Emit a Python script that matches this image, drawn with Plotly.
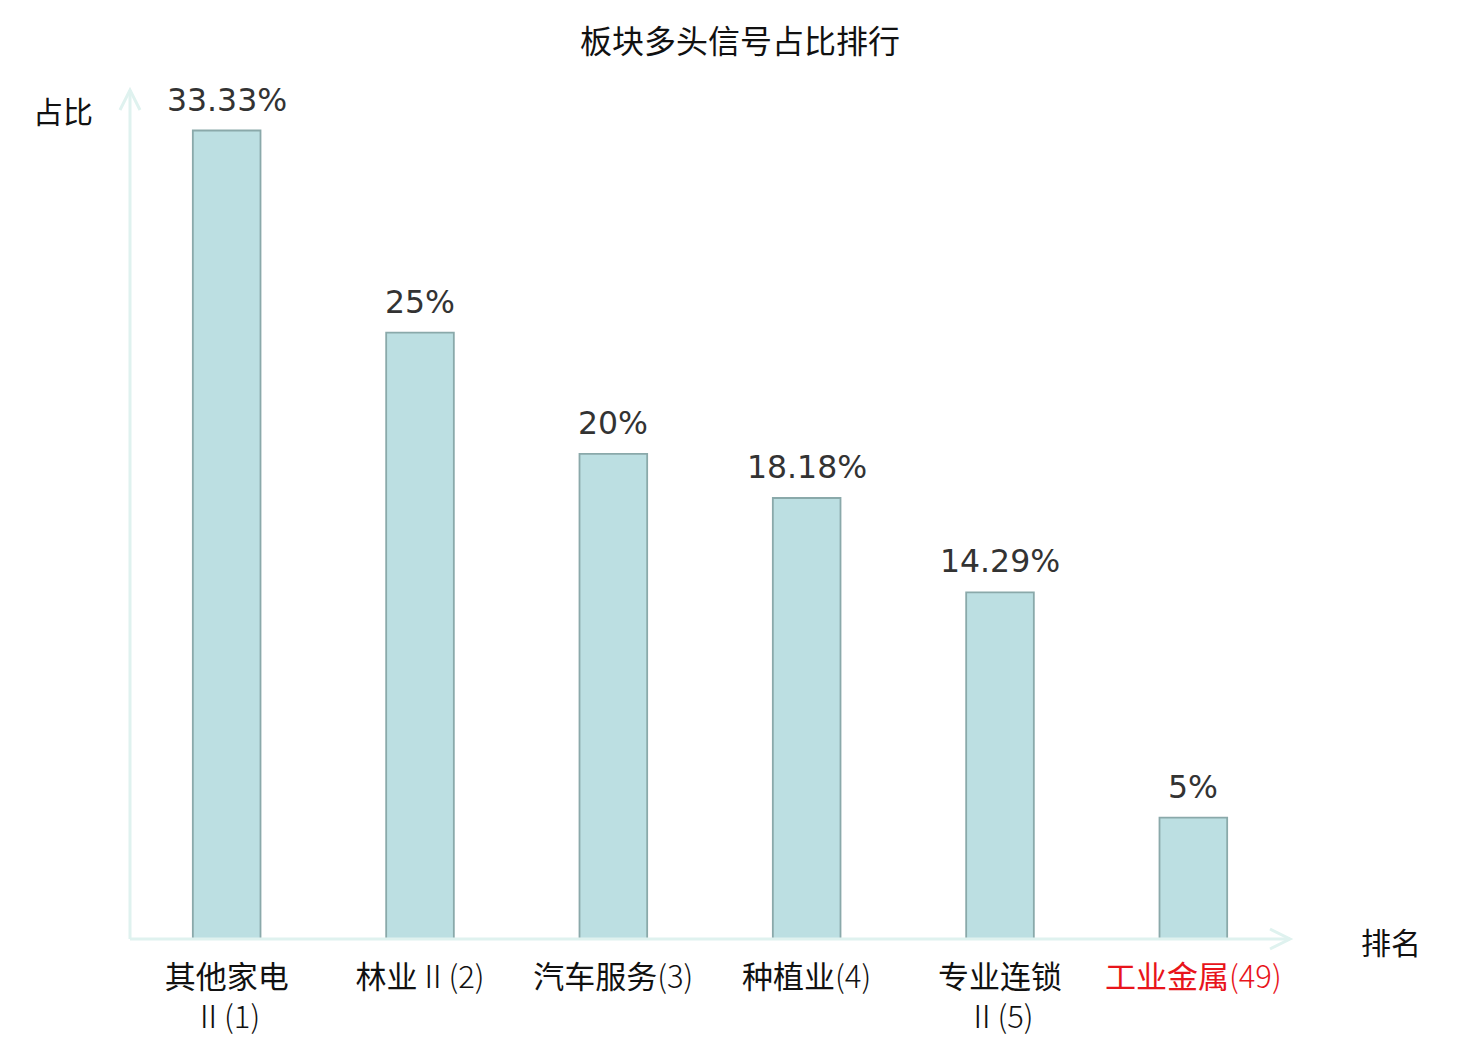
import plotly.graph_objects as go

# 板块多头信号占比
sectors = ["其他家电<br><span style='font-weight:300'>Ⅱ(1)</span>",
           "林业<span style='font-weight:300'>Ⅱ(2)</span>",
           "汽车服务<span style='font-weight:300'>(3)</span>",
           "种植业<span style='font-weight:300'>(4)</span>",
           "专业连锁<br><span style='font-weight:300'>Ⅱ(5)</span>",
           "<span style='color:#e8141b'>工业金属<span style='font-weight:300'>(49)</span></span>"]
ratios = [33.33, 25, 20, 18.18, 14.29, 5]
ratio_labels = ["33.33%", "25%", "20%", "18.18%", "14.29%", "5%"]

W, H = 1480, 1040
L, R, T, B = 122, 198, 82, 109
pw, ph = W - L - R, H - T - B
axis_col = "#dff2ef"

fig = go.Figure(go.Bar(
    x=list(range(len(sectors))), y=ratios,
    width=0.35,
    marker=dict(color="#bcdfe2", line=dict(color="#8aa9aa", width=1.8)),
))

# 数值标签
for i, (v, t) in enumerate(zip(ratios, ratio_labels)):
    fig.add_annotation(x=i, y=v, text=t, showarrow=False, xanchor="center",
                       yanchor="bottom", yshift=11,
                       font=dict(family="DejaVu Sans", size=31.5, color="#333333"))

# 坐标轴与箭头
dx, dy = 20 / pw, 10 / ph
ax_x, ay_y = 10 / pw, 20 / ph
shapes = [
    dict(type="line", xref="paper", yref="paper", x0=0, y0=0, x1=1, y1=0,
         line=dict(color=axis_col, width=3)),
    dict(type="line", xref="paper", yref="paper", x0=0, y0=0, x1=0, y1=1,
         line=dict(color=axis_col, width=3)),
    dict(type="path", xref="paper", yref="paper",
         path=f"M {1 - dx},{dy} L 1,0 L {1 - dx},{-dy}",
         line=dict(color=axis_col, width=3)),
    dict(type="path", xref="paper", yref="paper",
         path=f"M {-ax_x},{1 - ay_y} L 0,1 L {ax_x},{1 - ay_y}",
         line=dict(color=axis_col, width=3)),
]

fig.update_layout(
    width=W, height=H,
    margin=dict(l=L, r=R, t=T, b=B),
    plot_bgcolor="white", paper_bgcolor="white",
    font=dict(family="Noto Sans CJK SC", color="#111111"),
    title=dict(text="板块多头信号占比排行", xref="container", x=732 / W, xanchor="center",
               yref="container", y=1 - 34 / H, yanchor="middle",
               font=dict(family="Noto Sans CJK SC", size=32, color="#111111")),
    showlegend=False,
    shapes=shapes,
    xaxis=dict(range=[-0.5, 5.5], tickmode="array", tickvals=list(range(len(sectors))),
               ticktext=sectors, showgrid=False, zeroline=False, showline=False,
               automargin=False,
               ticks="", ticklabelstandoff=17, tickfont=dict(size=31, color="#111111")),
    yaxis=dict(range=[0, 35], showgrid=False, zeroline=False, showline=False,
               automargin=False, showticklabels=False, ticks=""),
)
fig.add_annotation(text="占比", xref="paper", yref="paper", x=-0.0578, y=0.976,
                   xanchor="center", yanchor="middle", showarrow=False,
                   font=dict(size=30, color="#111111"))
fig.add_annotation(text="排名", xref="paper", yref="paper", x=1.087, y=-0.0024,
                   xanchor="center", yanchor="middle", showarrow=False,
                   font=dict(size=30, color="#111111"))

fig.write_html("out.html")
